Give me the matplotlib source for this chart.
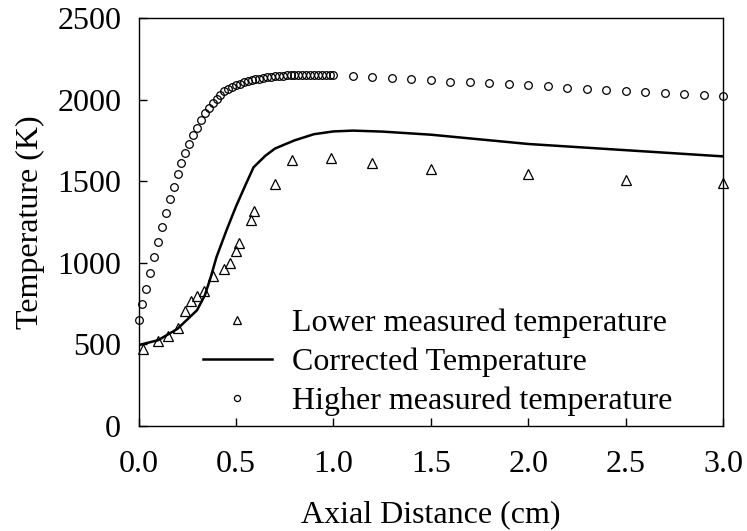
import numpy as np
import matplotlib.pyplot as plt

# Higher measured temperature: dense part (0 - 1.0 cm, every 0.02 cm)
x_high_dense = np.round(np.arange(0, 1.0001, 0.02), 2)
T_high_dense = [650, 746, 839, 937, 1034, 1129, 1217, 1307, 1389, 1466,
                1542, 1610, 1671, 1728, 1783, 1828, 1875, 1916, 1947, 1977,
                2006, 2030, 2050, 2065, 2078, 2089, 2098, 2106, 2113, 2119,
                2124, 2129, 2133, 2137, 2140, 2143, 2145, 2147, 2148, 2149,
                2150, 2150, 2151, 2151, 2151, 2151, 2150, 2150, 2150, 2150,
                2150]
# Higher measured temperature: sparse part (1.1 - 3.0 cm)
x_high_sparse = [1.1, 1.2, 1.3, 1.4, 1.5, 1.6, 1.7, 1.8, 1.9, 2.0,
                 2.1, 2.2, 2.3, 2.4, 2.5, 2.6, 2.7, 2.8, 2.9, 3.0]
T_high_sparse = [2142, 2137, 2131, 2125, 2118, 2111, 2105, 2099, 2093, 2087,
                 2081, 2073, 2066, 2060, 2054, 2047, 2041, 2035, 2029, 2023]

# Lower measured temperature
x_low = [0.025, 0.1, 0.15, 0.2, 0.24, 0.27, 0.3, 0.335, 0.38, 0.44, 0.47,
         0.5, 0.515, 0.575, 0.59, 0.7, 0.79, 0.99, 1.2, 1.5, 2.0, 2.5, 3.0]
T_low = [474, 521, 552, 599, 705, 764, 797, 828, 916, 961, 996,
         1075, 1124, 1261, 1320, 1480, 1629, 1640, 1609, 1574, 1541, 1506, 1490]

# Corrected temperature
x_corr = [0, 0.1, 0.2, 0.3, 0.34, 0.37, 0.4, 0.45, 0.5, 0.55, 0.59, 0.65,
          0.7, 0.8, 0.9, 1.0, 1.1, 1.25, 1.5, 2.0, 2.5, 3.0]
T_corr = [495, 525, 595, 709, 800, 910, 1035, 1195, 1345, 1480, 1585, 1655,
          1700, 1750, 1788, 1805, 1810, 1804, 1785, 1728, 1690, 1652]

plt.rcParams['font.family'] = ['Liberation Serif', 'DejaVu Serif']
plt.rcParams['font.size'] = 23

fig = plt.figure(figsize=(7.47, 5.31), dpi=100)
ax = fig.add_axes([0.1855, 0.198, 0.7825, 0.768])

ax.plot(x_low, T_low, linestyle='none', marker='^', markersize=7,
        markerfacecolor='none', markeredgecolor='black', markeredgewidth=0.9,
        label='Lower measured temperature', clip_on=False)
ax.plot(x_corr, T_corr, color='black', linewidth=1.8,
        label='Corrected Temperature')
ax.plot(np.concatenate([x_high_dense, x_high_sparse]),
        np.concatenate([T_high_dense, T_high_sparse]),
        linestyle='none', marker='o', markersize=5.5,
        markerfacecolor='none', markeredgecolor='black', markeredgewidth=0.9,
        label='Higher measured temperature', clip_on=False)

ax.set_xlim(0, 3.0)
ax.set_ylim(0, 2500)
ax.set_xticks([0.0, 0.5, 1.0, 1.5, 2.0, 2.5, 3.0])
ax.set_xticklabels(['0.0', '0.5', '1.0', '1.5', '2.0', '2.5', '3.0'])
ax.set_yticks([0, 500, 1000, 1500, 2000, 2500])
ax.tick_params(direction='in', length=6, width=1, pad=12.5,
               top=False, right=False)
ax.tick_params(axis='x', pad=17.5)
for s in ax.spines.values():
    s.set_linewidth(1)

ax.set_xlabel('Axial Distance (cm)', labelpad=15)
ax.set_ylabel('Temperature (K)', labelpad=9)

ax.legend(loc='center left', bbox_to_anchor=(0.11, 0.155), frameon=False,
          markerscale=0.8, handlelength=2.16, handletextpad=0.63,
          labelspacing=0.3, borderpad=0, borderaxespad=0)

fig.savefig('out.png', dpi=100)
